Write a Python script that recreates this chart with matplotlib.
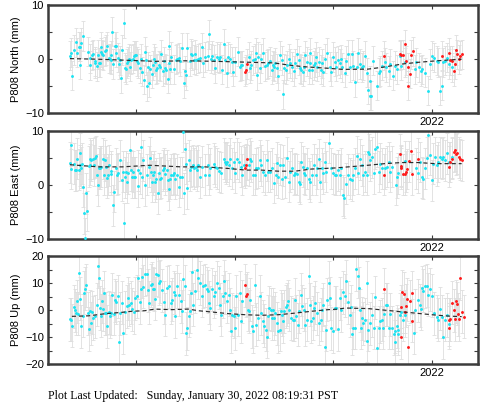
import matplotlib
matplotlib.use('Agg')
import matplotlib.pyplot as plt

plt.rcParams['font.family'] = ['Liberation Sans', 'DejaVu Sans']

# ---- North (mm) ----
t_north = [2018.33, 2018.34, 2018.35, 2018.37, 2018.39, 2018.40, 2018.42, 2018.43, 2018.43, 2018.44,
           2018.46, 2018.51, 2018.53, 2018.53, 2018.55, 2018.56, 2018.58, 2018.58, 2018.60, 2018.61,
           2018.62, 2018.63, 2018.65, 2018.65, 2018.66, 2018.67, 2018.69, 2018.70, 2018.71, 2018.73,
           2018.74, 2018.75, 2018.75, 2018.76, 2018.77, 2018.79, 2018.80, 2018.80, 2018.82, 2018.83,
           2018.84, 2018.85, 2018.86, 2018.88, 2018.89, 2018.90, 2018.91, 2018.92, 2018.93, 2018.94,
           2018.95, 2018.97, 2018.98, 2018.99, 2019.00, 2019.01, 2019.02, 2019.04, 2019.05, 2019.06,
           2019.08, 2019.09, 2019.10, 2019.11, 2019.12, 2019.13, 2019.14, 2019.16, 2019.17, 2019.18,
           2019.19, 2019.20, 2019.21, 2019.23, 2019.24, 2019.25, 2019.27, 2019.28, 2019.29, 2019.30,
           2019.32, 2019.33, 2019.33, 2019.34, 2019.35, 2019.38, 2019.41, 2019.42, 2019.44, 2019.45,
           2019.47, 2019.49, 2019.50, 2019.51, 2019.52, 2019.55, 2019.56, 2019.57, 2019.59, 2019.60,
           2019.61, 2019.63, 2019.65,
           2019.67, 2019.68, 2019.70, 2019.73, 2019.74, 2019.76, 2019.77, 2019.79, 2019.80, 2019.82,
           2019.84, 2019.85, 2019.87, 2019.89, 2019.90, 2019.92, 2019.93, 2019.95, 2019.97, 2019.98,
           2020.00, 2020.03, 2020.05, 2020.06, 2020.07, 2020.14, 2020.16, 2020.17, 2020.19, 2020.21,
           2020.22, 2020.23, 2020.24, 2020.26, 2020.27, 2020.29, 2020.31, 2020.33, 2020.34, 2020.36,
           2020.38, 2020.39, 2020.40, 2020.41, 2020.43, 2020.44, 2020.46, 2020.48, 2020.49, 2020.50,
           2020.52, 2020.53, 2020.55, 2020.56, 2020.58, 2020.60, 2020.61, 2020.63, 2020.65, 2020.66,
           2020.67, 2020.69, 2020.70, 2020.71, 2020.73, 2020.75, 2020.76, 2020.76, 2020.78, 2020.80,
           2020.81, 2020.82, 2020.83, 2020.85, 2020.87, 2020.88, 2020.90, 2020.92, 2020.94, 2020.97,
           2020.98, 2021.00, 2021.02, 2021.03, 2021.05, 2021.07,
           2021.08, 2021.09, 2021.12, 2021.13, 2021.15, 2021.17, 2021.19, 2021.20, 2021.22, 2021.24,
           2021.25, 2021.27, 2021.29, 2021.30, 2021.32, 2021.34, 2021.35, 2021.37, 2021.37, 2021.38,
           2021.40, 2021.44, 2021.46, 2021.47, 2021.49, 2021.52, 2021.53, 2021.56, 2021.57, 2021.60,
           2021.62, 2021.64, 2021.68, 2021.69, 2021.73, 2021.83, 2021.84, 2021.87, 2021.89, 2021.90,
           2021.93, 2021.96, 2021.98, 2022.00, 2022.02, 2022.05, 2022.06, 2022.08, 2022.10, 2022.11,
           2022.13, 2022.15, 2022.17, 2022.20]
north = [0.6, 1.2, -3.1, 1.7, 3.1, 1.2, 2.3, -1.0, 2.3, 3.0,
         4.3, 1.4, -1.1, 0.2, 0.7, 0.9, -0.8, -0.4, -1.3, 0.8,
         -0.7, -0.7, 1.3, 2.3, 0.9, 0.7, 1.5, 1.7, 2.4, 0.2,
         0.1, 0.7, -0.1, 5.1, -0.9, 2.4, 1.2, 2.4, 0.3, -0.9,
         -0.2, -3.5, 1.7, 6.7, -1.6, -1.9, -0.8, -0.4, 0.1, -1.4,
         -0.1, 0.1, 0.6, 0.7, 0.7, -0.4, -0.8, -1.7, 0.1, -2.3,
         -3.8, 1.4, -0.2, -5.0, -1.4, -4.4, -1.9, -2.7, -1.1, 0.1,
         -0.5, -2.0, -1.7, -1.1, -1.4, 0.9, -2.2, -0.4, -1.7, -2.0,
         -3.6, 2.5, -0.8, -1.9, 0.4, -1.9, -0.1, 0.1, 0.3, -0.4,
         2.1, -4.5, -2.2, -3.0, 2.1, -0.4, 1.0, 0.7, -0.1, 0.9,
         -0.2, 0.1, 0.3,
         2.2, -0.7, 0.4, 0.6, 4.6, 0.1, 0.6, -0.1, -1.7, 0.4,
         0.1, 0.4, -2.0, 2.9, -0.1, -2.5, 0.4, 0.1, -0.5, -2.3,
         -0.5, 1.4, -1.4, -1.1, -1.1, 0.4, -1.7, -1.1, -0.2, 0.1,
         1.2, -3.0, 0.4, -1.7, 0.1, 1.2, -1.3, -1.0, -0.8, -0.4,
         -2.0, -1.1, -1.4, -0.7, -1.7, -3.1, 0.7, -0.2, -6.5, -1.7,
         -2.0, -1.1, 0.1, -0.8, -1.4, -2.2, -0.8, 1.0, -0.2, -1.7,
         -2.0, -2.3, -1.4, 0.7, -0.5, -2.0, 1.2, -0.8, -2.0, -1.1,
         -0.7, 0.4, -1.4, -0.5, -2.0, -0.8, -2.3, 0.1, 1.2, -1.4,
         -2.3, 0.4, -0.5, -1.4, -0.2, -0.8,
         0.0, -1.5, -2.5, -0.3, 0.9, -1.5, 0.9, -1.2, -4.3, -1.5,
         1.2, -0.9, -1.5, -1.2, 0.6, -2.5, -5.7, -6.8, -4.0, -6.8,
         -0.3, -4.9, -2.5, -2.2, -1.2, -0.6, -1.5, -2.2, -0.9, -3.1,
         -1.2, -1.9, 0.6, -1.2, -0.6, -1.9, -0.6, -1.5, -2.2, -1.9,
         -2.5, -5.9, -0.9, 0.6, 0.3, -0.3, -0.6, -5.9, -4.9, -0.6,
         -0.3, 0.3, -0.9, -1.5]
t_north_red = [2020.10, 2020.11, 2020.12, 2021.51, 2021.68, 2021.69, 2021.71, 2021.73, 2021.74, 2021.76,
               2021.76, 2021.78, 2021.79, 2021.81, 2022.10, 2022.17, 2022.18, 2022.20, 2022.22, 2022.23,
               2022.24, 2022.25, 2022.27, 2022.28, 2022.30]
north_red = [-2.3, -2.0, -0.9, 0.6, 0.9, 0.8, 0.8, 2.8, -0.3, -1.5,
             -4.9, -2.7, 0.8, 1.5, 0.6, 1.2, -0.2, -0.3, -2.2, -0.9,
             1.7, 0.9, 0.0, 0.6, 0.9]
t_north_fit = [2018.33, 2018.6, 2018.9, 2019.2, 2019.5, 2019.8, 2020.1, 2020.4, 2020.55, 2020.7,
               2020.95, 2021.1, 2021.35, 2021.5, 2021.7, 2021.85, 2022.05, 2022.3]
north_fit = [0.1, 0.0, -0.2, -0.4, -0.3, -0.4, -0.55, -0.7, -1.1, -1.4,
             -1.7, -1.9, -1.85, -1.5, -0.9, -0.6, -0.3, 0.0]

# ---- East (mm) ----
t_east = [2018.33, 2018.34, 2018.34, 2018.37, 2018.38, 2018.39, 2018.40, 2018.42, 2018.43, 2018.43,
          2018.44, 2018.45, 2018.46, 2018.47, 2018.48, 2018.49, 2018.50, 2018.52, 2018.53, 2018.53,
          2018.54, 2018.56, 2018.57, 2018.58, 2018.59, 2018.60, 2018.61, 2018.62, 2018.63, 2018.64,
          2018.65, 2018.67, 2018.68, 2018.69, 2018.70, 2018.71, 2018.72, 2018.73, 2018.75, 2018.75,
          2018.77, 2018.78, 2018.80, 2018.81, 2018.82, 2018.84, 2018.86, 2018.87, 2018.88, 2018.89,
          2018.90, 2018.91, 2018.92, 2018.94, 2018.95, 2018.96, 2018.97, 2018.98, 2018.99, 2019.02,
          2019.02, 2019.04, 2019.05, 2019.06, 2019.07, 2019.09, 2019.11, 2019.13, 2019.14, 2019.15,
          2019.16, 2019.17, 2019.18, 2019.19, 2019.20, 2019.22, 2019.23, 2019.24, 2019.25, 2019.27,
          2019.28, 2019.29, 2019.31, 2019.32, 2019.33, 2019.34, 2019.35, 2019.37, 2019.38, 2019.40,
          2019.42, 2019.44, 2019.45, 2019.47, 2019.48, 2019.49, 2019.50, 2019.51, 2019.52, 2019.54,
          2019.55, 2019.56, 2019.58, 2019.59, 2019.61, 2019.62, 2019.63, 2019.65,
          2019.67, 2019.70, 2019.73, 2019.74, 2019.75, 2019.79, 2019.80, 2019.82, 2019.84, 2019.86,
          2019.89, 2019.90, 2019.91, 2019.92, 2019.94, 2019.95, 2019.97, 2019.99, 2020.00, 2020.02,
          2020.04, 2020.06, 2020.07, 2020.09, 2020.14, 2020.16, 2020.17, 2020.19, 2020.21, 2020.22,
          2020.24, 2020.26, 2020.27, 2020.29, 2020.31, 2020.33, 2020.34, 2020.36, 2020.38, 2020.40,
          2020.42, 2020.43, 2020.44, 2020.46, 2020.48, 2020.49, 2020.51, 2020.53, 2020.55, 2020.56,
          2020.58, 2020.60, 2020.61, 2020.63, 2020.65, 2020.66, 2020.67, 2020.69, 2020.70, 2020.71,
          2020.73, 2020.75, 2020.76, 2020.78, 2020.80, 2020.82, 2020.83, 2020.85, 2020.86, 2020.88,
          2020.90, 2020.92, 2020.93, 2020.96, 2020.98, 2021.00, 2021.02, 2021.03, 2021.05, 2021.07,
          2021.08, 2021.10, 2021.11, 2021.13, 2021.15, 2021.17, 2021.19, 2021.20, 2021.22, 2021.24,
          2021.25, 2021.27, 2021.29, 2021.30, 2021.32, 2021.34, 2021.35, 2021.36, 2021.37, 2021.39,
          2021.41, 2021.42, 2021.44, 2021.46, 2021.47, 2021.49, 2021.52, 2021.54, 2021.56, 2021.57,
          2021.59, 2021.63, 2021.64, 2021.66, 2021.69, 2021.73, 2021.84, 2021.86, 2021.88, 2021.90,
          2021.91, 2021.93, 2021.95, 2021.96, 2021.98, 2022.00, 2022.01, 2022.03, 2022.05, 2022.06,
          2022.08, 2022.10, 2022.11, 2022.13, 2022.15, 2022.17, 2022.20]
east = [4.2, 7.4, 3.0, 4.0, 2.8, 2.8, 4.9, 2.9, 5.9, 3.7,
        3.2, 4.0, -0.3, -5.2, -9.9, -1.5, -4.8, 3.5, 4.9, 3.8,
        4.6, 4.9, 3.7, 5.1, 5.4, 1.9, 0.0, 3.1, 3.4, 3.1,
        3.4, 4.9, 1.9, 4.6, 3.4, 1.4, 1.9, 3.7, 2.0, 2.6,
        -3.7, -1.2, 3.1, 1.9, 2.2, 4.6, 0.9, 2.5, -7.1, 1.5,
        2.5, 0.5, 2.2, 6.5, 2.8, 1.5, 2.5, 1.5, 1.5, 2.8,
        -0.2, 2.2, 7.1, 1.5, 4.6, 0.0, 1.9, 3.4, 5.1, 2.5,
        0.6, 1.9, 2.5, 0.6, 1.2, -1.5, 2.2, 1.2, 1.4, 2.8,
        3.1, 2.0, 2.8, 0.9, -0.8, 1.2, 1.9, 1.9, 2.2, 1.2,
        1.9, -0.3, 1.5, 1.5, 9.9, -1.5, 6.7, 4.0, -0.6, 4.6,
        2.8, 3.4, 3.7, 3.1, 3.4, 2.8, 3.7, 1.5,
        3.4, 1.9, 3.8, 1.9, 3.1, 4.0, 3.4, 3.1, 2.6, 2.3,
        4.9, 4.3, 4.0, 4.3, 3.7, 4.9, 3.1, 4.3, 2.3, 4.9,
        4.3, 3.4, 1.9, 3.7, 3.7, 4.9, 4.4, 1.9, 1.9, 3.1,
        3.2, 4.6, 3.7, 2.5, 1.9, 4.6, 2.5, 2.5, 3.1, 0.4,
        1.9, 4.2, 1.5, 3.8, 1.2, 3.7, 1.5, 5.1, 0.6, 2.5,
        3.1, 1.9, 2.2, 2.0, 0.6, 0.3, 4.3, 3.4, 2.2, 1.9,
        3.1, 1.2, 0.6, 1.9, 3.8, 1.9, 3.1, 4.8, 0.6, 3.1,
        2.2, 4.3, 2.5, 7.9, 3.1, 2.2, 1.9, 1.9, 2.8, 1.9,
        3.1, -1.9, -2.3, 0.3, 1.9, 1.2, 0.9, 1.9, 3.1, 5.4,
        2.2, 4.8, 3.7, 1.9, 2.5, 1.9, 6.2, 5.7, 4.6, 5.2,
        2.2, 6.8, 7.1, 2.5, 4.0, 3.1, 3.1, 3.4, 4.3, 2.5,
        3.4, 0.1, 1.5, 2.2, 3.4, 4.4, 3.1, 2.3, 4.3, 1.5,
        1.2, 3.1, 5.1, 9.3, 5.6, 0.9, 4.0, 5.2, 3.7, 4.3,
        5.2, 4.9, 5.2, 4.6, 5.9, 4.3, 5.2]
t_east_red = [2020.10, 2020.11, 2020.12, 2021.51, 2021.68, 2021.69, 2021.69, 2021.71, 2021.73, 2021.74,
              2021.75, 2021.77, 2021.79, 2021.80, 2021.86, 2022.17, 2022.18, 2022.20, 2022.22, 2022.23,
              2022.24, 2022.25, 2022.27, 2022.28, 2022.30]
east_red = [3.2, 3.8, 4.8, 1.9, 5.7, 3.6, 3.1, 2.0, 2.0, 2.5,
            3.0, 4.4, 6.3, 2.0, 4.9, 3.4, 4.3, 4.9, 6.2, 6.5,
            5.7, 5.9, 5.2, 4.8, 4.6]
t_east_fit = [2018.33, 2018.62, 2018.86, 2019.14, 2019.46, 2019.7, 2019.94, 2020.11, 2020.27, 2020.44,
              2020.61, 2020.78, 2021.02, 2021.35, 2021.52, 2021.69, 2021.86, 2022.03, 2022.3]
east_fit = [3.8, 3.4, 3.4, 3.7, 3.4, 3.4, 3.1, 2.8, 2.8, 2.6,
            2.6, 3.0, 3.2, 3.7, 4.0, 4.2, 4.2, 4.0, 4.0]

# ---- Up (mm) ----
t_up = [2018.33, 2018.34, 2018.35, 2018.37, 2018.38, 2018.39, 2018.40, 2018.41, 2018.42, 2018.43,
        2018.44, 2018.46, 2018.47, 2018.48, 2018.49, 2018.51, 2018.52, 2018.53, 2018.54, 2018.55,
        2018.56, 2018.58, 2018.60, 2018.61, 2018.62, 2018.63, 2018.65, 2018.66, 2018.67, 2018.68,
        2018.69, 2018.70, 2018.71, 2018.73, 2018.74, 2018.75, 2018.76, 2018.78, 2018.79, 2018.80,
        2018.82, 2018.83, 2018.84, 2018.86, 2018.87, 2018.89, 2018.91, 2018.92, 2018.93, 2018.95,
        2018.96, 2018.98, 2018.99,
        2019.01, 2019.02, 2019.04, 2019.05, 2019.06, 2019.07, 2019.09, 2019.11, 2019.12, 2019.13,
        2019.15, 2019.16, 2019.17, 2019.18, 2019.19, 2019.20, 2019.22, 2019.23, 2019.24, 2019.26,
        2019.28, 2019.29, 2019.31, 2019.33, 2019.35, 2019.36, 2019.38, 2019.39, 2019.40, 2019.42,
        2019.44, 2019.46, 2019.47, 2019.48, 2019.50, 2019.51, 2019.52, 2019.54, 2019.55, 2019.56,
        2019.57, 2019.58, 2019.60, 2019.62, 2019.63, 2019.65,
        2019.67, 2019.68, 2019.70, 2019.72, 2019.73, 2019.74, 2019.75, 2019.77, 2019.79, 2019.80,
        2019.82, 2019.84, 2019.85, 2019.86, 2019.88, 2019.89, 2019.90, 2019.92, 2019.94, 2019.95,
        2019.96, 2019.97, 2019.99, 2020.00, 2020.01, 2020.03, 2020.05, 2020.06, 2020.07, 2020.13,
        2020.15, 2020.16, 2020.18, 2020.19, 2020.21, 2020.22, 2020.24, 2020.26, 2020.27, 2020.29,
        2020.30, 2020.32, 2020.33, 2020.34, 2020.35, 2020.37, 2020.38, 2020.39, 2020.40, 2020.41,
        2020.43, 2020.44, 2020.46, 2020.47, 2020.48, 2020.49, 2020.50, 2020.52, 2020.53, 2020.54,
        2020.55, 2020.57, 2020.59, 2020.60, 2020.61, 2020.62, 2020.64, 2020.65, 2020.67, 2020.68,
        2020.70, 2020.71, 2020.73, 2020.75, 2020.76, 2020.77, 2020.79, 2020.80, 2020.81, 2020.83,
        2020.85, 2020.87, 2020.88, 2020.90, 2020.92, 2020.93, 2020.94, 2020.96, 2020.97, 2020.98,
        2021.00, 2021.02, 2021.03, 2021.05, 2021.07,
        2021.08, 2021.10, 2021.12, 2021.13, 2021.15, 2021.17, 2021.18, 2021.19, 2021.20, 2021.22,
        2021.23, 2021.25, 2021.26, 2021.27, 2021.28, 2021.29, 2021.30, 2021.32, 2021.34, 2021.34,
        2021.35, 2021.37, 2021.39, 2021.41, 2021.42, 2021.44, 2021.46, 2021.47, 2021.49, 2021.50,
        2021.51, 2021.53, 2021.54, 2021.56, 2021.57, 2021.59, 2021.61, 2021.62, 2021.62, 2021.64,
        2021.65, 2021.66, 2021.68, 2021.69, 2021.71, 2021.73, 2021.82, 2021.83, 2021.86, 2021.88,
        2021.89, 2021.90, 2021.91, 2021.93, 2021.95, 2021.96, 2021.98, 2022.00, 2022.02, 2022.05,
        2022.06, 2022.08, 2022.10, 2022.11, 2022.13, 2022.15, 2022.17]
up = [-3.3, -3.5, -5.8, 1.2, -0.1, -1.1, 3.3, -1.3, 13.9, 4.2,
      -6.0, -2.1, 6.4, 7.9, 9.2, -1.1, -7.0, -0.4, -4.8, -0.8,
      -2.9, -2.3, 2.1, 16.4, 12.0, 0.8, -2.1, 3.3, 0.4, 6.4,
      -1.1, -1.1, -6.0, -0.8, -2.3, -1.1, 5.8, -1.3, 3.7, 2.9,
      5.2, -12.0, -1.1, 2.7, -8.3, -0.8, 1.4, 4.5, 2.1, 2.7,
      0.4, -0.8, 4.5,
      5.2, 12.0, 2.9, 7.7, 12.4, 8.7, 13.3, 13.6, 7.4, 2.7,
      9.2, 9.9, 7.9, 7.7, 4.2, 13.3, 12.9, 10.1, 10.8, 7.4,
      2.9, -1.7, 8.3, 8.9, 2.7, 3.9, 6.7, 5.8, -2.3, 8.9,
      5.8, 3.3, -0.4, 11.6, 8.9, -8.5, -6.7, -2.1, -0.4, 6.4,
      14.1, 2.1, 7.0, 15.1, 12.0, 10.1,
      5.4, 8.9, 9.2, 7.9, 7.0, 2.7, 0.8, 7.7, 5.2, 6.7,
      10.1, 8.3, 2.1, -1.7, 5.2, 10.8, 6.4, 3.3, 5.8, 0.2,
      -7.9, -1.7, -2.3, -6.7, 5.2, -1.7, 6.4, -4.2, 3.3, 0.2,
      -0.4, 3.9, -6.0, -7.9, 9.3, -5.4, -2.9, 5.2, -1.1, -4.2,
      -5.8, -7.3, -9.8, -2.3, 0.8, 0.2, -2.9, 0.2, -2.9, -1.1,
      -4.8, -7.9, -7.3, -0.4, -1.7, -4.2, -0.4, 1.2, 2.1, 3.3,
      0.2, -2.9, -3.5, -3.5, 3.9, -2.3, -5.4, -0.4, 5.8, 1.4,
      0.2, -5.4, -3.5, 12.6, 2.1, -4.2, -2.9, 0.8, 2.7, -1.1,
      -4.8, -3.5, 0.2, 2.1, -13.5, -7.3, 3.9, 10.1, 4.5, -6.7,
      -7.9, 0.8, 0.8, -7.0, 4.5,
      0.0, 6.6, 5.4, 10.8, 3.0, -1.8, 1.2, -8.8, -6.6, -6.6,
      15.3, 12.7, 8.1, 0.0, -6.6, -3.0, -4.8, -3.6, 10.2, -11.4,
      -7.2, -4.8, -1.8, -6.6, 4.8, -13.9, -6.6, -4.2, -3.6, -6.6,
      -1.6, 2.0, 2.0, -6.6, -1.6, -6.6, -8.8, -7.8, -11.7, -6.0,
      -7.2, -8.8, -1.8, -0.6, -3.6, -1.8, -8.4, 0.0, 3.6, 1.8,
      0.6, 8.4, 7.2, 8.8, 9.0, 5.7, 7.8, 5.4, -1.2, -2.4,
      -3.6, 0.6, -2.4, -10.0, -3.6, -1.8, -5.2]
t_up_red = [2020.10, 2020.11, 2020.12, 2021.51, 2021.69, 2021.70, 2021.72, 2021.74, 2021.75, 2021.78,
            2021.80, 2021.80, 2021.69, 2021.76, 2021.73, 2022.17, 2022.17, 2022.18, 2022.20, 2022.22,
            2022.23, 2022.24, 2022.25, 2022.26, 2022.27, 2022.28, 2022.30, 2022.32]
up_red = [9.2, 5.4, 6.0, 7.8, 1.2, 6.9, 6.0, 1.6, 4.0, 3.3,
          6.4, -4.0, -10.0, -13.6, -0.6, -6.6, -3.6, -3.3, 2.7, 0.0,
          -3.3, 3.3, 2.4, -1.6, -3.3, 11.8, -0.6, -2.4]
t_up_fit = [2018.35, 2018.52, 2018.69, 2018.86, 2018.96, 2019.09, 2019.19, 2019.36, 2019.53, 2019.63,
            2019.80, 2019.94, 2020.11, 2020.27, 2020.44, 2020.61, 2020.78, 2020.95, 2021.05, 2021.12,
            2021.35, 2021.52, 2021.69, 2021.86, 2022.03, 2022.17, 2022.30]
up_fit = [-2.3, -2.1, -1.3, -0.8, -0.4, -0.2, 0.4, 0.2, 0.4, -0.2,
          -0.8, -1.3, -1.7, -1.9, -1.7, -1.1, -0.4, 0.2, 0.4, 0.8,
          0.6, 0.0, -0.6, -1.2, -1.8, -2.2, -2.4]

# typical 1-sigma error bar per component (mm)
sig_north = 2.7
sig_east = 3.8
sig_up = 8.0

panels = [
    ('P808 North (mm)', t_north, north, t_north_red, north_red, t_north_fit, north_fit, sig_north, 10, 0.7203),
    ('P808 East (mm)', t_east, east, t_east_red, east_red, t_east_fit, east_fit, sig_east, 10, 0.4084),
    ('P808 Up (mm)', t_up, up, t_up_red, up_red, t_up_fit, up_fit, sig_up, 20, 0.0990),
]

fig = plt.figure(figsize=(4.81, 4.04), dpi=100)
frame = '#3c3c3c'

for label, t, v, tr, vr, tf, vf, sig, lim, bottom in panels:
    ax = fig.add_axes([0.0998, bottom, 0.894, 0.2665])
    # error bars first, then points, model on top
    ax.errorbar(t, v, yerr=sig, fmt='none', ecolor='#dedede', elinewidth=0.6,
                capsize=1.4, capthick=0.6, zorder=1)
    ax.errorbar(tr, vr, yerr=sig, fmt='none', ecolor='#dedede', elinewidth=0.6,
                capsize=1.4, capthick=0.6, zorder=1)
    ax.plot(t, v, 'o', ms=2.1, mfc='#1de3f2', mec='none', zorder=3)
    ax.plot(tr, vr, 'o', ms=2.1, mfc='#ff1a1a', mec='none', zorder=3)
    ax.plot(tf, vf, color='#2a2a2a', lw=0.85, dashes=(3.5, 2.5), zorder=4)

    ax.set_xlim(2018.108, 2022.466)
    ax.set_ylim(-lim, lim)
    ax.set_xticks([2019, 2020, 2021, 2022])
    ax.set_xticklabels(['', '', '', '2022'])
    yt = list(range(-lim, lim + 1, 5))
    ax.set_yticks(yt)
    ax.set_yticklabels([('\u2212%d' % -y if y < 0 else '%d' % y) if y % 10 == 0 else '' for y in yt])
    ax.tick_params(direction='in', top=True, right=True, length=3, width=0.8,
                   color=frame, labelsize=8, pad=3)
    for s in ax.spines.values():
        s.set_linewidth(1.8)
        s.set_color(frame)
    ax.set_ylabel(label, fontsize=8, labelpad=3)

fig.text(0.0998, 0.02, 'Plot Last Updated:   Sunday, January 30, 2022 08:19:31 PST',
         family=['Liberation Serif', 'DejaVu Serif'], fontsize=8.6, va='center')

fig.savefig('out.png', dpi=100)
